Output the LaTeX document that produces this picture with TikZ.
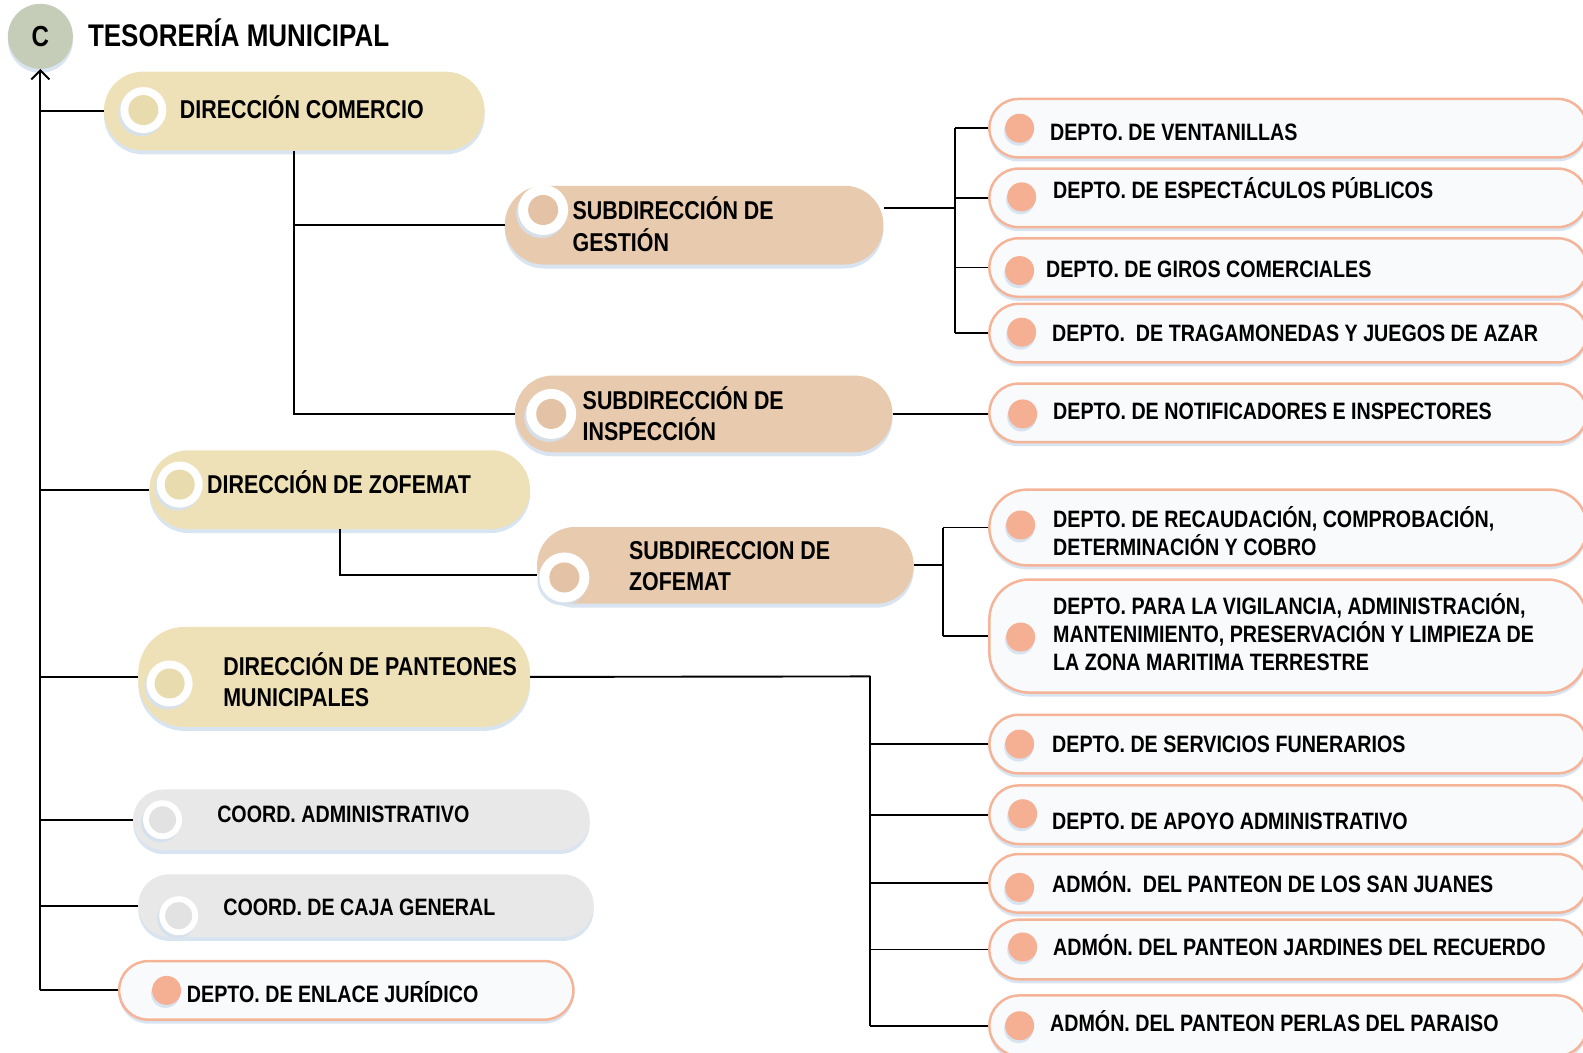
\documentclass[tikz,border=0pt]{standalone}
\usepackage{fontspec}
\setmainfont{Liberation Sans}[FakeStretch=0.83]
\usetikzlibrary{shadows,arrows.meta}
\definecolor{ylw}{HTML}{EEE1B8}
\definecolor{ylwin}{HTML}{E8DBAE}
\definecolor{pch}{HTML}{E8CAAE}
\definecolor{pchin}{HTML}{E4C2A5}
\definecolor{gry}{HTML}{E8E8E8}
\definecolor{gryin}{HTML}{E2E2E2}
\definecolor{cgrn}{HTML}{C5CCB8}
\definecolor{dbrd}{HTML}{F5B498}
\definecolor{dfill}{HTML}{F8FAFC}
\definecolor{ddot}{HTML}{F5B093}
\definecolor{shd}{HTML}{D5E1EF}
\tikzset{
  sh/.style={drop shadow={fill=shd, opacity=0.9, shadow xshift=0pt, shadow yshift=-4pt}},
  ybox/.style={fill=ylw, sh},
  pbox/.style={fill=pch, sh},
  gbox/.style={fill=gry, sh},
  dbox/.style={fill=dfill, draw=dbrd, line width=2.5pt, sh},
  ring/.style={circle, fill=white, inner sep=0pt, minimum size=#1,
    drop shadow={fill=shd, opacity=0.9, shadow xshift=-2pt, shadow yshift=-3pt}},
  incirc/.style={circle, fill=#1, inner sep=0pt, minimum size=30pt},
  dotst/.style={circle, fill=ddot, inner sep=0pt, minimum size=29pt,
    drop shadow={fill=shd, opacity=0.9, shadow xshift=-1pt, shadow yshift=-3pt}},
  lblS/.style={font=\bfseries\fontsize{23.7}{28}\selectfont, inner sep=0pt, anchor=west, align=left},
  lblL/.style={font=\bfseries\fontsize{25.8}{31.5}\selectfont, inner sep=0pt, anchor=west, align=left},
  oneS/.style={lblS, text height=17pt, text depth=0pt},
  oneL/.style={lblL, text height=18.5pt, text depth=0pt},
  conn/.style={draw=black, line width=1.9pt},
}
% name, style, x1, y1, x2, y2, max radius
\newcommand\mkbox[7]{%
  \pgfmathsetmacro\rr{min((#6-#4)/2,#7)}%
  \node[#2, inner sep=0pt, minimum width={(#5-#3)*1.0096pt}, minimum height={(#6-#4)*1.0096pt},
    rounded corners=\rr pt] (#1) at ({(#3+#5)/2},{(#4+#6)/2}) {};}
% name, y1, y2, dotx, doty, tx, ty, textstyle, text
\newcommand\dept[9]{%
  \mkbox{#1}{dbox}{980}{#2}{1572}{#3}{40}%
  \node[dotst] (#1d) at (#4,#5) {};
  \node[#8] (#1t) at (#6,#7) {#9};}
% name, x, y, ring size, inner colour
\newcommand\mkring[5]{%
  \node[ring=#4] (#1r) at (#2,#3) {};
  \node[incirc=#5] (#1i) at (#2,#3) {};}
\begin{document}
\begin{tikzpicture}[x=1.0096pt, y=-1.0096pt]
\useasboundingbox (0,0) rectangle (1568,1043);
\clip (0,0) rectangle (1568,1043);

% header
\node[circle, fill=cgrn, minimum size=65pt, inner sep=0pt, sh,
  font=\bfseries\fontsize{29}{30}\selectfont] (C) at (40,36) {C};
\node[lblL, font=\bfseries\fontsize{31.3}{34}\selectfont, text height=22.4pt, text depth=0pt] (title) at (87,35) {TESORERÍA MUNICIPAL};

% left column boxes
\mkbox{dc}{ybox}{103}{71}{480}{149}{39}
\mkbox{dz}{ybox}{148}{446}{525}{524}{39}
\mkbox{dp}{ybox}{137}{621}{525}{720}{46}
\mkbox{ca}{gbox}{132}{782}{584}{842}{30}
\mkbox{cc}{gbox}{137}{866}{588}{928}{31}
\mkbox{ej}{dbox}{118}{952}{568}{1010}{29}
\mkbox{sg}{pbox}{500}{184}{875}{262}{39}
\mkbox{si}{pbox}{510}{372}{884}{448}{38}
\mkbox{sz}{pbox}{532}{522}{905}{598}{38}

% rings
\mkring{dc}{142}{109}{46pt}{ylwin}
\mkring{dz}{178}{480}{46pt}{ylwin}
\mkring{dp}{168}{677}{46pt}{ylwin}
\mkring{sg}{538}{208}{50pt}{pchin}
\mkring{si}{546}{410}{50pt}{pchin}
\mkring{sz}{559}{572}{50pt}{pchin}
\node[ring=39pt] (car) at (161,812) {};
\node[incirc=gryin, minimum size=27pt] (cai) at (161,812) {};
\node[ring=39pt] (ccr) at (177,907) {};
\node[incirc=gryin, minimum size=27pt] (cci) at (177,907) {};
\node[dotst] (ejd) at (165,981) {};

% left texts
\node[oneL] (dct) at (178,108) {DIRECCIÓN COMERCIO};
\node[oneL] (dzt) at (205,480) {DIRECCIÓN DE ZOFEMAT};
\node[lblL] (dpt) at (221,673) {DIRECCIÓN DE PANTEONES\\MUNICIPALES};
\node[lblL] (sgt) at (567,222) {SUBDIRECCIÓN DE\\GESTIÓN};
\node[lblL] (sit) at (577,410) {SUBDIRECCIÓN DE\\INSPECCIÓN};
\node[lblL] (szt) at (623,560.5) {SUBDIRECCION DE\\ZOFEMAT};
\node[oneS] (cat) at (215,806) {COORD. ADMINISTRATIVO};
\node[oneS] (cct) at (221,898) {COORD. DE CAJA GENERAL};
\node[oneS] (ejt) at (185,985) {DEPTO. DE ENLACE JURÍDICO};

% right column departments
\dept{v1}{98}{156}{1010}{127}{1040}{131}{oneS}{DEPTO. DE VENTANILLAS}
\dept{v2}{167}{225}{1012}{195}{1043}{188}{oneS}{DEPTO. DE ESPECTÁCULOS PÚBLICOS}
\dept{v3}{236}{294}{1010}{268}{1036}{266}{oneS}{DEPTO. DE GIROS COMERCIALES}
\dept{v4}{301}{359}{1012}{329}{1042}{330}{oneS}{DEPTO.\ \ DE TRAGAMONEDAS Y JUEGOS DE AZAR}
\dept{n1}{380}{438}{1013}{410}{1043}{407}{oneS}{DEPTO. DE NOTIFICADORES E INSPECTORES}
\dept{r1}{485}{560}{1011}{520}{1043}{526}{lblS}{DEPTO. DE RECAUDACIÓN, COMPROBACIÓN,\\DETERMINACIÓN Y COBRO}
\dept{r2}{574}{686}{1011}{631}{1043}{626}{lblS}{DEPTO. PARA LA VIGILANCIA, ADMINISTRACIÓN,\\MANTENIMIENTO, PRESERVACIÓN Y LIMPIEZA DE\\LA ZONA MARITIMA TERRESTRE}
\dept{s1}{708}{766}{1010}{737}{1042}{737}{oneS}{DEPTO. DE SERVICIOS FUNERARIOS}
\dept{s2}{778}{836}{1013}{806}{1042}{813}{oneS}{DEPTO. DE APOYO ADMINISTRATIVO}
\dept{s3}{846}{904}{1010}{879}{1042}{876}{oneS}{ADMÓN.\ \ DEL PANTEON DE LOS SAN JUANES}
\dept{s4}{911}{970}{1013}{938}{1043}{938}{oneS}{ADMÓN. DEL PANTEON JARDINES DEL RECUERDO}
\dept{s5}{986}{1046}{1010}{1016}{1040}{1013}{oneS}{ADMÓN. DEL PANTEON PERLAS DEL PARAISO}

% connectors: trunk
\draw[conn, -{Straight Barb[length=9pt,width=18pt,line width=1.9pt]}] (ej.west -| C.south) -- (C.south);
\foreach \n in {dc,dz,dp,ca,cc,ej} \draw[conn] (\n.west -| C.south) -- (\n.west);

% Direccion comercio
\draw[conn] (dc.south) |- (sg.west);
\draw[conn] (dc.south) |- (si.west);
\coordinate (gb) at (946,206);
\draw[conn] (sg.east |- gb) -- (gb);
\draw[conn] (gb |- v1.west) -- (gb |- v4.west);
\foreach \n in {v1,v2,v3,v4} \draw[conn] (gb |- \n.west) -- (\n.west);
\draw[conn] (si.east) -- (si.east -| n1.west);

% Zofemat
\draw[conn] (dz.south) |- ([yshift=-10pt]sz.west);
\coordinate (zb) at (934,560);
\draw[conn] (sz.east) -- (zb);
\draw[conn] (zb |- r1.west) -- (zb |- r2.west);
\foreach \n in {r1,r2} \draw[conn] (zb |- \n.west) -- (\n.west);

% Panteones
\coordinate (pb) at (862,670);
\draw[conn] (dp.east) -- (pb);
\draw[conn] (pb) -- (pb |- s5.west);
\foreach \n in {s1,s2,s3,s4,s5} \draw[conn] (pb |- \n.west) -- (\n.west);
\end{tikzpicture}
\end{document}
